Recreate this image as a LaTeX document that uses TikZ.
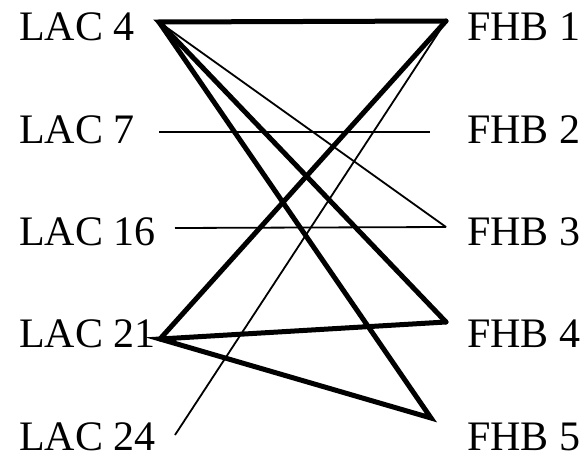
\documentclass[tikz,border=0pt]{standalone}
\usepackage{fontspec}
\setmainfont{Liberation Serif}
\tikzset{
  lbl/.style={anchor=base west, inner sep=0pt, font=\fontsize{42}{50}\selectfont},
  thickline/.style={line width=5pt, line join=miter, line cap=round},
  thinline/.style={line width=1.8pt, line cap=butt}
}
\begin{document}
\begin{tikzpicture}[x=1pt,y=-1pt]
\useasboundingbox (0,0) rectangle (587,461);
% labels
\node[lbl] (l4) at (19,40) {LAC 4};
\node[lbl] (l7) at (19,143) {LAC 7};
\node[lbl] (l16) at (19,245) {LAC 16};
\node[lbl] (l21) at (19,347) {LAC 21};
\node[lbl] (l24) at (19,450) {LAC 24};
\node[lbl] (f1) at (467,40) {FHB 1};
\node[lbl] (f2) at (467,143) {FHB 2};
\node[lbl] (f3) at (467,245) {FHB 3};
\node[lbl] (f4) at (467,347) {FHB 4};
\node[lbl] (f5) at (467,450) {FHB 5};
% anchor points
\coordinate (a4) at (159,22);
\coordinate (a7) at (159,132);
\coordinate (a16) at (175,228);
\coordinate (a21) at (160,339);
\coordinate (a24) at (175,435);
\coordinate (b1) at (446,21);
\coordinate (b2) at (430,132);
\coordinate (b3) at (446,227);
\coordinate (b4) at (446,322);
\coordinate (b5) at (431,418);
% thin connectors
\draw[thinline] (a4) -- (b3);
\draw[thinline] (a7) -- (b2);
\draw[thinline] (a16) -- (b3);
\draw[thinline] (a24) -- (b1);
% thick connectors
\draw[thickline] (b1) -- (a4) -- (b4);
\draw[thickline] (a4) -- (b5) -- (a21) -- (b4);
\draw[thickline] (a21) -- (b1);
\end{tikzpicture}
\end{document}
